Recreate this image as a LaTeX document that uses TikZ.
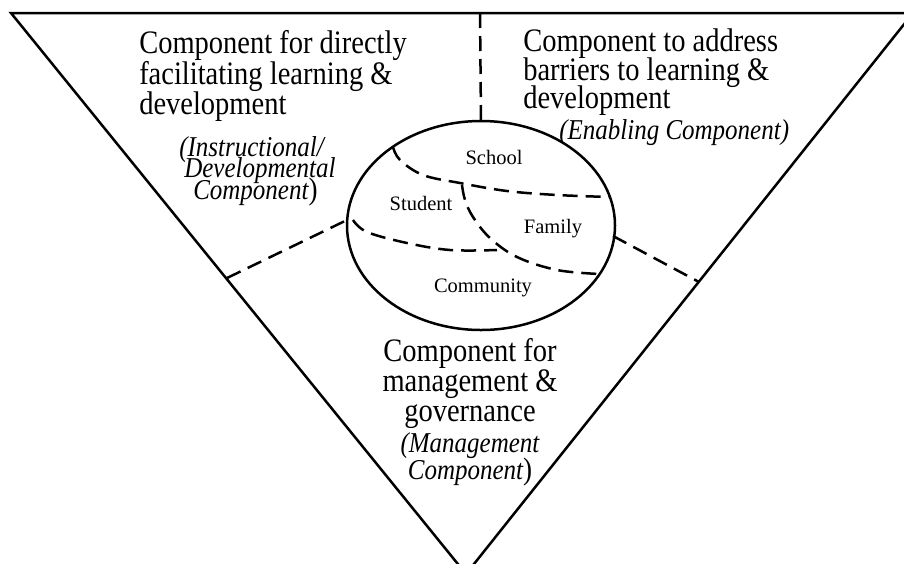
\documentclass[tikz,border=0pt]{standalone}
\usepackage{graphicx}
\usepackage{fontspec}
\setmainfont{Liberation Serif}
\usetikzlibrary{shapes.geometric}
\newcommand\vstretch[1]{\scalebox{1}[1.15]{#1}}
\newcommand\bigparen{{\upshape\fontsize{27}{27}\selectfont)}}
\begin{document}
\begin{tikzpicture}[x=1pt,y=-1pt, line width=2.5pt,
  big/.style={font=\fontsize{28.5}{31}\selectfont, inner sep=0pt},
  ital/.style={font=\fontsize{25}{25}\selectfont\itshape, inner sep=0pt},
  small/.style={font=\fontsize{20.5}{22}\selectfont, inner sep=0pt},
  dashline/.style={line width=2.5pt, dash pattern=on 15pt off 8pt}]
\useasboundingbox (0,0) rectangle (904,563);
\clip (0,0) rectangle (904,563);
% triangle
\coordinate (tl) at (11,13);
\coordinate (tr) at (913,13);
\coordinate (ap) at (466,574);
\draw[line join=miter] (ap) -- (tl) -- (tr) -- cycle;
% central ellipse
\node[ellipse, draw, line width=2.5pt, minimum width=268pt, minimum height=209pt, inner sep=0pt, outer sep=0pt] (ell) at (481,225.5) {};
% dividing dashed lines
\coordinate (topmid) at (480,13);
\coordinate (lp) at (227,278);
\coordinate (le) at (347,220);
\coordinate (re) at (613,236);
\coordinate (rp) at (699,282);
\draw[dashline] (topmid) -- (ell.north);
\draw[dashline] (lp) -- (le);
\draw[dashline] (re) -- (rp);
% internal dashed curves
\draw[dashline] plot[smooth, tension=0.6] coordinates {(393,147) (400,160) (423,175) (460,183) (507,191) (557,195) (610,197)};
\draw[dashline] plot[smooth, tension=0.6] coordinates {(462,185) (465,200) (473,217) (490,238) (517,257) (557,270) (600,274)};
\draw[dashline] plot[smooth, tension=0.6] coordinates {(353,220) (367,232) (407,243) (450,250) (497,250)};
% top-left text
\node[big, anchor=base west] (tl1) at (138,53) {\vstretch{Component for directly}};
\node[big, anchor=base west] (tl2) at (138,84) {\vstretch{facilitating learning \&}};
\node[big, anchor=base west] (tl3) at (138,114) {\vstretch{development}};
\node[ital, anchor=base west] (ti1) at (178,156) {\vstretch{(Instructional/}};
\node[ital, anchor=base west] (ti2) at (183,177.5) {\vstretch{Developmental}};
\node[ital, anchor=base west] (ti3) at (192,199) {\vstretch{Component\bigparen}};
% top-right text
\node[big, anchor=base west] (tr1) at (522,51) {\vstretch{Component to address}};
\node[big, anchor=base west] (tr2) at (522,80) {\vstretch{barriers to learning \&}};
\node[big, anchor=base west] (tr3) at (522,108) {\vstretch{development}};
\node[ital, anchor=base west] (tri) at (558,139) {\vstretch{(Enabling Component)}};
% bottom text
\node[big, anchor=base] (b1) at (470,361) {\vstretch{Component for}};
\node[big, anchor=base] (b2) at (470,391.5) {\vstretch{management \&}};
\node[big, anchor=base] (b3) at (470,421) {\vstretch{governance}};
\node[ital, anchor=base] (bi1) at (470,452) {\vstretch{(Management}};
\node[ital, anchor=base] (bi2) at (470,479) {\vstretch{Component\bigparen}};
% ellipse labels
\node[small, anchor=base] (school) at (494,164) {School};
\node[small, anchor=base] (student) at (421,210) {Student};
\node[small, anchor=base] (family) at (553,233) {Family};
\node[small, anchor=base] (community) at (483,292) {Community};
\end{tikzpicture}
\end{document}
